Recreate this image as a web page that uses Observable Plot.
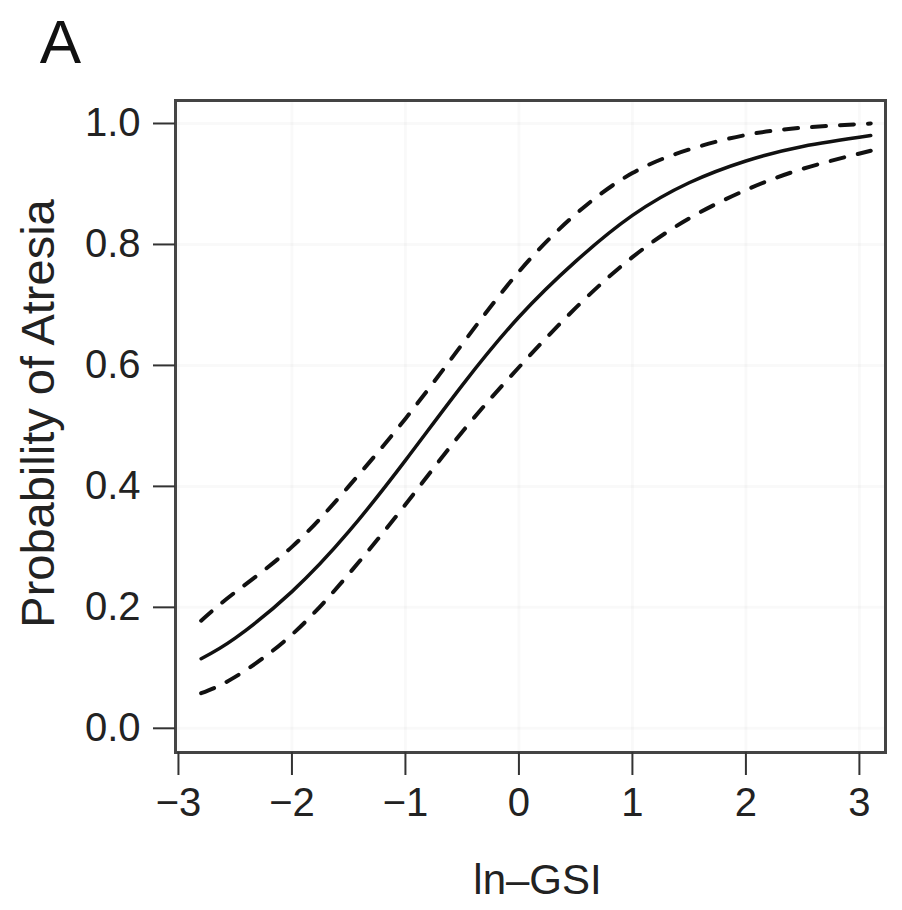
<!DOCTYPE html>
<html>
<head>
<meta charset="utf-8">
<script src="https://cdn.jsdelivr.net/npm/d3@7"></script>
<script src="https://cdn.jsdelivr.net/npm/@observablehq/plot@0.6"></script>
<style>
  html, body { margin: 0; padding: 0; background: #fff; }
  #chart svg { display: block; }
</style>
</head>
<body>
<div id="chart"></div>
<script>
// ln-GSI values at which the curves were read
const lnGSI = [-2.8, -2.5, -2.0, -1.5, -1.0, -0.5, 0.0, 0.5, 1.0, 1.5, 2.0, 2.5, 3.1];
// fitted probability of atresia
const fitted = [0.115, 0.149, 0.226, 0.325, 0.443, 0.567, 0.680, 0.772, 0.848, 0.902, 0.938, 0.962, 0.980];
// upper and lower confidence bounds
const upper  = [0.178, 0.225, 0.300, 0.400, 0.512, 0.635, 0.755, 0.850, 0.918, 0.957, 0.981, 0.993, 1.000];
const lower  = [0.058, 0.085, 0.155, 0.255, 0.370, 0.490, 0.597, 0.695, 0.779, 0.843, 0.890, 0.925, 0.955];

const xTicks = [-3, -2, -1, 0, 1, 2, 3];
const yTicks = [0.0, 0.2, 0.4, 0.6, 0.8, 1.0];

const panelLabel = "A";
const xLabel = "ln\u2013GSI";
const yLabel = "Probability of Atresia";

const fitData = lnGSI.map((x, i) => ({x, y: fitted[i]}));
const upData = lnGSI.map((x, i) => ({x, y: upper[i]}));
const loData = lnGSI.map((x, i) => ({x, y: lower[i]}));

const font = "'Liberation Sans', Arial, Helvetica, sans-serif";

const chart = Plot.plot({
  width: 902,
  height: 910,
  marginLeft: 175,
  marginRight: 17,
  marginTop: 100,
  marginBottom: 158,
  style: {fontFamily: font, background: "#fff", color: "#222", overflow: "visible"},
  x: {domain: [-3.026, 3.23]},
  y: {domain: [-0.04, 1.038]},
  marks: [
    Plot.gridX(xTicks, {stroke: "#000", strokeOpacity: 0.025, strokeWidth: 3}),
    Plot.gridY(yTicks, {stroke: "#000", strokeOpacity: 0.025, strokeWidth: 3}),
    Plot.line(upData, {x: "x", y: "y", curve: "natural", stroke: "#111", strokeWidth: 4, strokeDasharray: "14,14"}),
    Plot.line(loData, {x: "x", y: "y", curve: "natural", stroke: "#111", strokeWidth: 4, strokeDasharray: "14,14"}),
    Plot.line(fitData, {x: "x", y: "y", curve: "natural", stroke: "#111", strokeWidth: 3.5}),
    Plot.frame({stroke: "#444", strokeWidth: 3}),
    Plot.axisX({ticks: xTicks, tickSize: 23, tickPadding: 12, fontSize: 40, stroke: "#333", strokeWidth: 2,
      tickFormat: d => d < 0 ? "\u2212" + Math.abs(d) : String(d), label: null}),
    Plot.axisY({ticks: yTicks, tickSize: 22, tickPadding: 13, fontSize: 40, stroke: "#333", strokeWidth: 2,
      tickFormat: d => d.toFixed(1), label: null}),
    Plot.text([xLabel], {frameAnchor: "bottom", text: d => d, dy: 128, dx: 7, fontSize: 42, textAnchor: "middle", lineAnchor: "middle", fill: "#222"}),
    Plot.text([yLabel], {frameAnchor: "left", text: d => d, rotate: -90, dx: -137, dy: -13, fontSize: 47, textAnchor: "middle", lineAnchor: "middle", fill: "#222"}),
    Plot.text([panelLabel], {frameAnchor: "top-left", text: d => d, dx: -115, dy: -57, fontSize: 62, textAnchor: "middle", lineAnchor: "middle", fill: "#111"})
  ]
});
document.getElementById("chart").appendChild(chart);
</script>
</body>
</html>
